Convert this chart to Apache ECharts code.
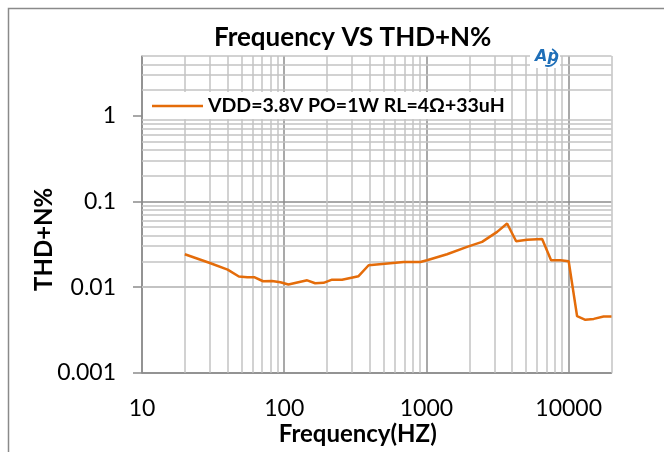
<!DOCTYPE html>
<html><head><meta charset="utf-8">
<script src="https://cdn.jsdelivr.net/npm/echarts@6/dist/echarts.min.js"></script>
<style>html,body{margin:0;padding:0;background:#fff}#c{width:664px;height:452px}</style>
</head><body><div id="c"></div>
<script>
const TITLE = 'Frequency VS THD+N%';
const SERIES_NAME = 'VDD=3.8V PO=1W RL=4Ω+33uH';
const X_NAME = 'Frequency(HZ)';
const Y_NAME = 'THD+N%';
const freq = [20,30,40,48,55,62,71,82,94,107,145,165,189,217,255,333,392,692,906,1009,1395,1930,2461,3140,3690,4270,5100,6505,7520,8750,10000,11460,13100,15000,17600,20000];
const thd = [0.0242,0.0191,0.016,0.0133,0.013,0.013,0.0117,0.0118,0.0114,0.0107,0.012,0.0111,0.0112,0.0122,0.0122,0.0134,0.018,0.0196,0.0196,0.0206,0.0242,0.0295,0.0337,0.0441,0.0553,0.0343,0.0358,0.0365,0.0206,0.0206,0.0200,0.00457,0.00415,0.00425,0.00454,0.00454];
const xTicks = [10,100,1000,10000];
const yTicks = [0.001,0.01,0.1,1];
const minorX = [20,30,40,50,60,70,80,90,200,300,400,500,600,700,800,900,2000,3000,4000,5000,6000,7000,8000,9000,20000];
const minorY = [0.002,0.003,0.004,0.005,0.006,0.007,0.008,0.009,0.02,0.03,0.04,0.05,0.06,0.07,0.08,0.09,0.2,0.3,0.4,0.5,0.6,0.7,0.8,0.9,2,3,4,5];

const FONT = 'Lato';
const MAJOR = '#8c8c8c', MINOR = '#c3c3c3', LINE = '#e46c0a', LOGO = '#1f6fb8';
const fmt = v => String(parseFloat(Number(v).toPrecision(3)));

const chart = echarts.init(document.getElementById('c'), null, {renderer:'canvas'});
chart.setOption({
  animation: false,
  backgroundColor: '#fff',
  title: {text: TITLE, left: 214, top: 25, padding: 0,
    textStyle: {fontFamily: FONT, fontSize: 26, fontWeight: 'bold', color: '#000'}},
  legend: {
    data: [{name: SERIES_NAME, icon: 'rect'}], left: 148, top: 92, padding: [4,6,3,4], z: 4,
    backgroundColor: '#fff', itemWidth: 51, itemHeight: 2.5, itemGap: 4,
    textStyle: {fontFamily: FONT, fontSize: 19.5, fontWeight: 'bold', color: '#000', padding: [0,0,0,0]}
  },
  grid: {left: 142, right: 52.5, top: 56, bottom: 79.3, containLabel: false},
  xAxis: {
    type: 'log', logBase: 10, min: 10, max: 20000,
    name: X_NAME, nameLocation: 'middle', nameGap: 50, nameMoveOverlap: false,
    nameTextStyle: {fontFamily: FONT, fontSize: 24, fontWeight: 'bold', color: '#000', padding: [0, 38, 0, 0]},
    axisLine: {show: true, lineStyle: {color: MAJOR, width: 1.5}},
    axisTick: {show: false},
    axisLabel: {customValues: xTicks, margin: 24, fontFamily: FONT, fontSize: 23, color: '#000', formatter: fmt},
    splitLine: {show: true, showMaxLine: false, lineStyle: {color: MAJOR, width: 1.5}}
  },
  yAxis: {
    type: 'log', logBase: 10, min: 0.001, max: 5,
    name: Y_NAME, nameLocation: 'middle', nameGap: 86, nameRotate: 90, nameMoveOverlap: false,
    nameTextStyle: {fontFamily: FONT, fontSize: 24, fontWeight: 'bold', color: '#000', padding: [0, 50, 0, 0]},
    axisLine: {show: true, lineStyle: {color: MAJOR, width: 1.5}},
    axisTick: {show: true, customValues: yTicks, length: 9, lineStyle: {color: MAJOR, width: 1.5}},
    axisLabel: {customValues: yTicks, margin: 26, fontFamily: FONT, fontSize: 23, color: '#000', formatter: fmt},
    splitLine: {show: true, showMaxLine: false, lineStyle: {color: MAJOR, width: 1.5}}
  },
  graphic: [
    {type: 'rect', z: 100, silent: true, shape: {x: 8.5, y: 8.5, width: 700, height: 500},
      style: {fill: 'none', stroke: '#8a8a8a', lineWidth: 1.5}},
    {type: 'rect', z: 100, silent: true, shape: {x: 530, y: 46, width: 30, height: 22}, style: {fill: '#fff'}},
    {type: 'text', z: 101, silent: true, x: 535, y: 49,
      style: {text: 'Ap', fill: LOGO, font: 'italic bold 16px "DejaVu Sans"'}},
    {type: 'arc', z: 101, silent: true, shape: {cx: 548, cy: 57, r: 9, startAngle: -1.1, endAngle: 1.9},
      style: {stroke: LOGO, fill: 'none', lineWidth: 1.8}}
  ],
  series: [
    {
      type: 'line', name: 'grid-minor', data: [], z: 1, silent: true,
      markLine: {
        z: 1, silent: true, symbol: ['none','none'], label: {show: false},
        lineStyle: {color: MINOR, width: 1.5, type: 'solid'},
        emphasis: {disabled: true},
        data: minorX.map(v => ({xAxis: v})).concat(minorY.map(v => ({yAxis: v})))
      }
    },
    {
      type: 'line', name: SERIES_NAME, z: 5, symbol: 'none', smooth: false,
      lineStyle: {color: LINE, width: 2.5}, itemStyle: {color: LINE},
      data: freq.map((f, i) => [f, thd[i]])
    }
  ]
});
</script></body></html>
